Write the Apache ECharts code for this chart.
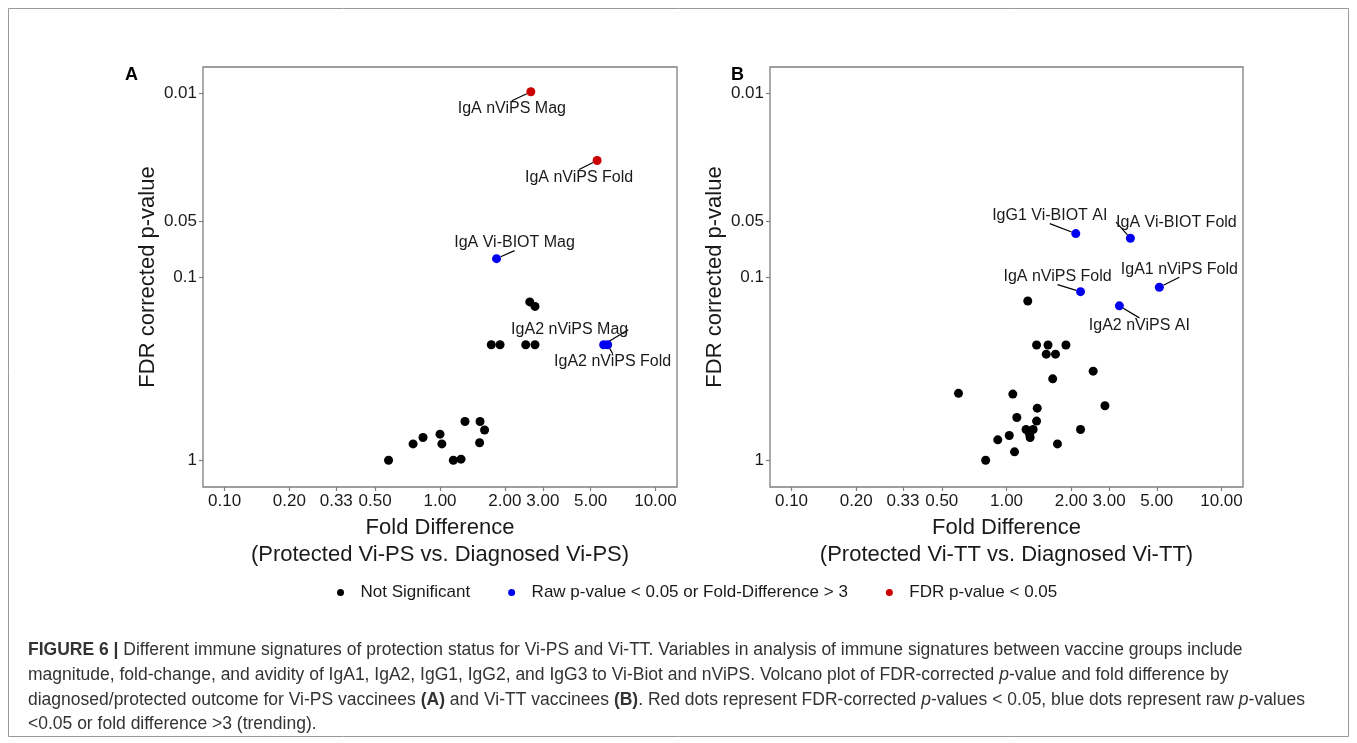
<!DOCTYPE html>
<html>
<head>
<meta charset="utf-8">
<script src="https://cdn.jsdelivr.net/npm/echarts@6/dist/echarts.min.js"></script>
<style>
  html, body { margin: 0; padding: 0; background: #fff; }
  #chart { width: 1357px; height: 743px; }
</style>
</head>
<body>
<div id="chart"></div>
<script>
// tick labels
const xTickValues = [0.1, 0.2, 0.33, 0.5, 1, 2, 3, 5, 10]
const xTickLabels = ['0.10', '0.20', '0.33', '0.50', '1.00', '2.00', '3.00', '5.00', '10.00']
const yTickValues = [0.01, 0.05, 0.1, 1]
const yTickLabels = ['0.01', '0.05', '0.1', '1']

const groupNames = ['Not Significant', 'Raw p-value < 0.05 or Fold-Difference > 3', 'FDR p-value < 0.05']

// panel A: Vi-PS  (group 0 = ns, 1 = raw, 2 = fdr)
const foldA = [0.577, 0.75, 0.834, 1.0, 1.02, 1.153, 1.252, 1.306, 1.534, 1.61, 1.527,
  1.73, 1.9, 2.5, 2.76, 2.61, 2.76, 5.75, 6.0, 1.83, 2.64, 5.36]
const pA = [1.0, 0.815, 0.752, 0.721, 0.815, 1.0, 0.987, 0.615, 0.615, 0.684, 0.803,
  0.2345, 0.2345, 0.2345, 0.2345, 0.137, 0.145, 0.2345, 0.2345, 0.0796, 0.0098, 0.0232]
const groupA = [0, 0, 0, 0, 0, 0, 0, 0, 0, 0, 0, 0, 0, 0, 0, 0, 0, 1, 1, 1, 2, 2]
const nameA = ['', '', '', '', '', '', '', '', '', '', '', '', '', '', '', '', '',
  'IgA2 nViPS Mag', 'IgA2 nViPS Fold', 'IgA Vi-BIOT Mag', 'IgA nViPS Mag', 'IgA nViPS Fold']

// panel B: Vi-TT
const foldB = [2.1, 3.77, 2.21, 5.14, 3.35,
  1.256, 1.38, 1.56, 1.89, 1.53, 1.69, 2.53, 1.64, 0.598, 1.07, 2.87, 1.39, 1.117, 1.38,
  1.233, 1.33, 1.28, 1.288, 2.21, 1.03, 0.911, 1.726, 1.09, 0.8]
const pB = [0.0581, 0.0616, 0.1205, 0.114, 0.144,
  0.1355, 0.2355, 0.2355, 0.2355, 0.264, 0.264, 0.327, 0.36, 0.432, 0.436, 0.505, 0.52, 0.585, 0.612,
  0.68, 0.68, 0.721, 0.752, 0.68, 0.733, 0.774, 0.815, 0.9, 1.0]
const groupB = [1, 1, 1, 1, 1, 0, 0, 0, 0, 0, 0, 0, 0, 0, 0, 0, 0, 0, 0, 0, 0, 0, 0, 0, 0, 0, 0, 0, 0]
const nameB = ['IgG1 Vi-BIOT AI', 'IgA Vi-BIOT Fold', 'IgA nViPS Fold', 'IgA1 nViPS Fold', 'IgA2 nViPS AI',
  '', '', '', '', '', '', '', '', '', '', '', '', '', '', '', '', '', '', '', '', '', '', '', '']

// label placement (pixel offset from point)
const labelOffsets = {
  'A:IgA nViPS Mag': [-19, 17],
  'A:IgA nViPS Fold': [-18, 17],
  'A:IgA Vi-BIOT Mag': [18, -16],
  'A:IgA2 nViPS Mag': [-34, -15],
  'A:IgA2 nViPS Fold': [5, 17],
  'B:IgG1 Vi-BIOT AI': [-26, -18],
  'B:IgA Vi-BIOT Fold': [46, -16],
  'B:IgA nViPS Fold': [-23, -15],
  'B:IgA1 nViPS Fold': [20, -18],
  'B:IgA2 nViPS AI': [20, 20],
}

const groupColors = ['#000000', '#0000f0', '#cc0000']
const font = "'Liberation Sans', Arial, sans-serif"
const textColor = '#1a1a1a'
const borderColor = '#7f7f7f'
const capSize = 17.5

const grids = [
  { left: 203, right: 680, top: 67, bottom: 256 },
  { left: 770, right: 114, top: 67, bottom: 256 },
]
const xNames = [
  'Fold Difference\n(Protected Vi-PS vs. Diagnosed Vi-PS)',
  'Fold Difference\n(Protected Vi-TT vs. Diagnosed Vi-TT)',
]

function nearestLabel(v, values, labels) {
  let best = 0
  values.forEach((t, i) => {
    if (Math.abs(t - v) < Math.abs(values[best] - v)) best = i
  })
  return labels[best]
}

const xTickPos = xTickValues.map((v) => Math.log10(v))
const yTickPos = yTickValues.map((v) => -Math.log10(v))

function buildSeries(panel, idx, folds, ps, groups, names) {
  return groupNames.map((gName, g) => {
    const items = []
    folds.forEach((f, i) => {
      if (groups[i] !== g) return
      items.push({ name: names[i], value: [Math.log10(f), -Math.log10(ps[i])] })
    })
    const hasLabels = items.some((d) => d.name)
    return {
      type: 'scatter',
      name: gName,
      xAxisIndex: idx,
      yAxisIndex: idx,
      data: items,
      symbol: 'circle',
      symbolSize: 9,
      itemStyle: { color: groupColors[g], opacity: 1 },
      label: {
        show: hasLabels,
        position: 'inside',
        formatter: (p) => p.name,
        fontFamily: font,
        fontSize: 16,
        color: textColor,
      },
      labelLine: { show: hasLabels, lineStyle: { color: '#000', width: 1.2 } },
      labelLayout: (params) => {
        const it = items[params.dataIndex]
        const o = it && labelOffsets[panel + ':' + it.name]
        return o ? { dx: o[0], dy: o[1] } : {}
      },
      emphasis: { disabled: true },
      z: 3,
    }
  })
}

const captionRich = {
  n: { fontFamily: font, fontSize: capSize, color: '#333' },
  b: { fontFamily: font, fontSize: capSize, fontWeight: 'bold', color: '#333' },
  i: { fontFamily: font, fontSize: capSize, fontStyle: 'italic', color: '#333' },
}
const captionLines = [
  '{b|FIGURE 6 |}{n| Different immune signatures of protection status for Vi-PS and Vi-TT. Variables in analysis of immune signatures between vaccine groups include}',
  '{n|magnitude, fold-change, and avidity of IgA1, IgA2, IgG1, IgG2, and IgG3 to Vi-Biot and nViPS. Volcano plot of FDR-corrected }{i|p}{n|-value and fold difference by}',
  '{n|diagnosed/protected outcome for Vi-PS vaccinees }{b|(A)}{n| and Vi-TT vaccinees }{b|(B)}{n|. Red dots represent FDR-corrected }{i|p}{n|-values < 0.05, blue dots represent raw }{i|p}{n|-values}',
  '{n|<0.05 or fold difference >3 (trending).}',
]
const captionY = [650, 675, 700, 724]

const chart = echarts.init(document.getElementById('chart'))

const option = {
  animation: false,
  backgroundColor: '#fff',
  grid: grids.map((g) => ({
    ...g,
    show: true,
    borderColor: borderColor,
    borderWidth: 1.3,
    backgroundColor: 'transparent',
    outerBoundsMode: 'none',
  })),
  xAxis: grids.map((g, i) => ({
    type: 'value',
    gridIndex: i,
    position: 'bottom',
    min: -1.1,
    max: 1.1,
    axisLine: { show: false, onZero: false },
    splitLine: { show: false },
    axisTick: { show: true, customValues: xTickPos, length: 4, lineStyle: { color: borderColor, width: 1.2 } },
    axisLabel: {
      customValues: xTickPos,
      formatter: (v) => nearestLabel(v, xTickPos, xTickLabels),
      margin: 6,
      fontFamily: font,
      fontSize: 17,
      color: textColor,
    },
    name: xNames[i],
    nameLocation: 'middle',
    nameGap: 16,
    nameTextStyle: { fontFamily: font, fontSize: 22, lineHeight: 27, color: textColor },
  })),
  yAxis: grids.map((g, i) => ({
    type: 'value',
    gridIndex: i,
    position: 'left',
    min: -0.146,
    max: 2.144,
    axisLine: { show: false, onZero: false },
    splitLine: { show: false },
    axisTick: { show: true, customValues: yTickPos, length: 4, lineStyle: { color: borderColor, width: 1.2 } },
    axisLabel: {
      customValues: yTickPos,
      formatter: (v) => nearestLabel(v, yTickPos, yTickLabels),
      margin: 6,
      fontFamily: font,
      fontSize: 17,
      color: textColor,
    },
    name: 'FDR corrected p-value',
    nameLocation: 'middle',
    nameGap: 44,
    nameTextStyle: { fontFamily: font, fontSize: 22, color: textColor },
  })),
  legend: {
    data: groupNames.map((n) => ({ name: n, icon: 'circle' })),
    left: 332,
    top: 579,
    itemWidth: 30,
    itemHeight: 7,
    itemGap: 38,
    textStyle: { fontFamily: font, fontSize: 17, color: textColor },
    selectedMode: false,
  },
  graphic: [
    {
      type: 'rect',
      shape: { x: 8.5, y: 8.5, width: 1340, height: 728 },
      style: { fill: 'none', stroke: '#9a9a9a', lineWidth: 1 },
      silent: true,
    },
    {
      type: 'text', left: 125, top: 66,
      style: { text: 'A', fontFamily: font, fontSize: 18, fontWeight: 'bold', fill: '#000' },
    },
    {
      type: 'text', left: 731, top: 66,
      style: { text: 'B', fontFamily: font, fontSize: 18, fontWeight: 'bold', fill: '#000' },
    },
    ...captionLines.map((line, i) => ({
      type: 'text',
      x: 28,
      y: captionY[i],
      style: { text: line, rich: captionRich, fontFamily: font, fontSize: capSize, fill: '#333', verticalAlign: 'middle' },
    })),
  ],
  series: [
    ...buildSeries('A', 0, foldA, pA, groupA, nameA),
    ...buildSeries('B', 1, foldB, pB, groupB, nameB),
  ],
}

chart.setOption(option)
window.addEventListener('resize', () => chart.resize())
</script>
</body>
</html>
